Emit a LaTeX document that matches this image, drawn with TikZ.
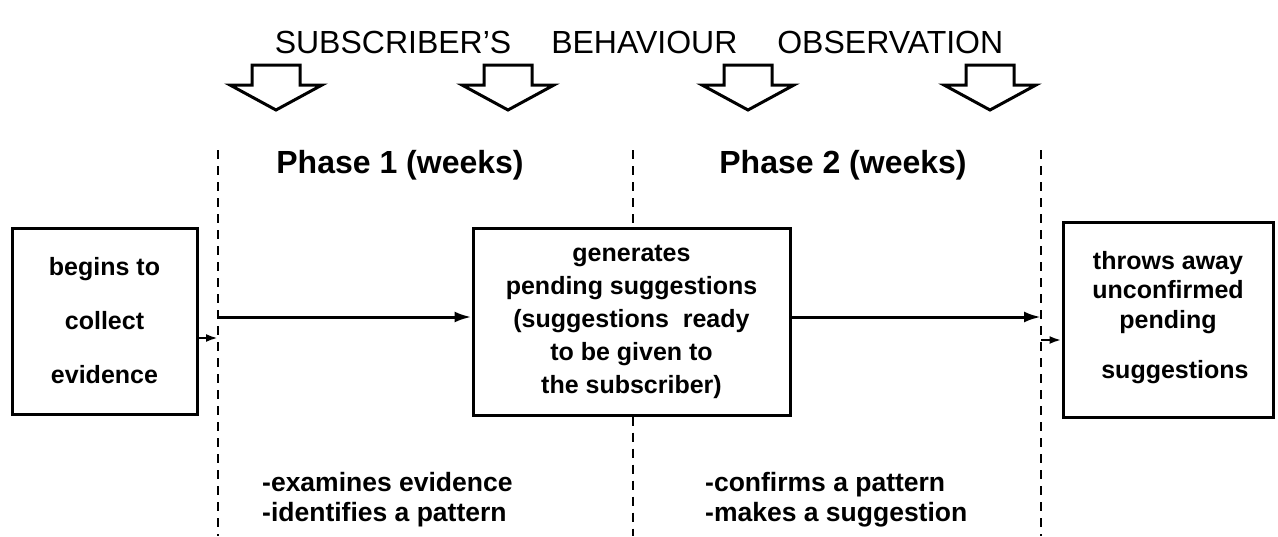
\documentclass[tikz,border=0pt]{standalone}
\usepackage{fontspec}
\setmainfont{Liberation Sans}
\usetikzlibrary{arrows.meta}
\begin{document}
\begin{tikzpicture}[x=1pt,y=-1pt,
  box/.style={draw,line width=3pt,inner sep=0pt,align=center,
    font=\fontsize{25}{33}\selectfont\bfseries},
  guide/.style={line width=2.6pt,dash pattern=on 9pt off 7pt},
  flow/.style={line width=3pt,-{Latex[length=17pt,width=11pt]}},
  stub/.style={line width=2.6pt,-{Latex[length=12pt,width=8pt]}},
  phase/.style={font=\fontsize{32}{36}\selectfont\bfseries},
  note/.style={align=left,inner sep=0pt,anchor=north west,
    font=\fontsize{26.5}{30}\selectfont\bfseries},
  obsarrow/.pic={\draw[line width=3pt,line join=miter]
    (-24,0) -- (24,0) -- (24,20) -- (46,20) -- (0,45) -- (-46,20) -- (-24,20) -- cycle;}
]
\useasboundingbox (0,0) rectangle (1278,536);

% heading and the observation arrows
\node (title) at (639,42) {\fontsize{32}{36}\selectfont SUBSCRIBER'S\hspace{40pt}BEHAVIOUR\hspace{40pt}OBSERVATION};
\foreach \ax in {276,508,748,990} \pic at (\ax,65) {obsarrow};

% phase labels
\node[phase] (ph1) at (400,165) {Phase 1 (weeks)};
\node[phase] (ph2) at (843,165) {Phase 2 (weeks)};

% boxes
\node[box,minimum width=185pt,minimum height=186pt] (start) at (104.5,321)
  {begins to\\[21pt]collect\\[21pt]evidence};
\node[box,minimum width=317pt,minimum height=187pt] (mid) at (631.5,321.5)
  {generates\\pending suggestions\\(suggestions\ \ ready\\to be given to\\the subscriber)};
\node[box,minimum width=210pt,minimum height=195pt] (final) at (1168,319.5)
  {throws away\\[-4pt]unconfirmed\\[-3pt]pending\\[17pt]\ \ suggestions\\[-23pt]};

% phase boundaries
\coordinate (b1t) at (218,150);  \coordinate (b1b) at (218,536);
\coordinate (b2t) at (633,150);  \coordinate (b2b) at (633,536);
\coordinate (b3t) at (1041,150); \coordinate (b3b) at (1041,536);
\draw[guide] (b1t) -- (b1b);
\draw[guide] (b2t) -- (b2t |- mid.north);
\draw[guide] (b2t |- mid.south) -- (b2b);
\draw[guide] (b3t) -- (b3b);

% flow between the stages
\coordinate (f1) at (218,317);
\coordinate (f2) at (1041,317);
\draw[flow] (f1) -- (f1 -| mid.west);
\draw[flow] (f2 -| mid.east) -- (f2);
\coordinate (s1) at (197,338);
\coordinate (s2) at (1041,340);
\draw[stub] (s1 -| start.east) -- (s1 -| b1t);
\draw[stub] (s2) -- (s2 -| final.west);

% phase activities
\node[note] (n1) at (262,472) {-examines evidence\\-identifies a pattern};
\node[note] (n2) at (705,472) {-confirms a pattern\\-makes a suggestion};
\end{tikzpicture}
\end{document}
